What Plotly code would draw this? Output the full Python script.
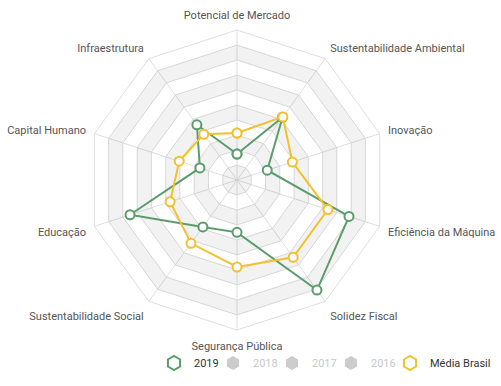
import plotly.graph_objects as go

categories = ["Potencial de Mercado", "Sustentabilidade Ambiental", "Inovação",
              "Eficiência da Máquina", "Solidez Fiscal", "Segurança Pública",
              "Sustentabilidade Social", "Educação", "Capital Humano", "Infraestrutura"]

values_2019 = [1.73, 5.17, 2.12, 7.85, 9.07, 3.49, 3.87, 7.5, 2.6, 4.55]
values_media = [3.13, 5.2, 3.88, 6.37, 6.37, 5.8, 5.22, 4.69, 4.05, 3.77]
hidden_years = ["2018", "2017", "2016"]

ring_levels = list(range(0, 11))

GREEN = "#5c9c6c"
YELLOW = "#f2c12e"
GRID = "#dedede"

fig = go.Figure()

# alternating split-area bands (gray on even bands from center)
n = len(categories)
for k in range(0, 10, 2):
    outer = [ring_levels[k + 1]] * n + [ring_levels[k + 1]]
    th_outer = categories + [categories[0]]
    if k == 0:
        r = outer
        th = th_outer
    else:
        inner_th = [categories[0]] + categories[::-1]
        r = outer + [ring_levels[k]] * (n + 1)
        th = th_outer + inner_th
    fig.add_trace(go.Scatterpolar(r=r, theta=th, mode="lines", fill="toself",
                                  fillcolor="rgba(0,0,0,0.05)", line=dict(width=0),
                                  showlegend=False, hoverinfo="skip"))

def closed(v):
    return v + [v[0]]

th_closed = categories + [categories[0]]

fig.add_trace(go.Scatterpolar(r=closed(values_2019), theta=th_closed, mode="lines+markers",
                              line=dict(color=GREEN, width=2),
                              marker=dict(symbol="circle", size=9, color="white",
                                          line=dict(color=GREEN, width=2)),
                              showlegend=False, name="2019"))
fig.add_trace(go.Scatterpolar(r=closed(values_media), theta=th_closed, mode="lines+markers",
                              line=dict(color=YELLOW, width=2),
                              marker=dict(symbol="circle", size=9, color="white",
                                          line=dict(color=YELLOW, width=2)),
                              showlegend=False, name="Média Brasil"))

# legend entries
fig.add_trace(go.Scatterpolar(r=[None], theta=[None], mode="markers", name="2019",
                              marker=dict(symbol="hexagon-open", size=14, color=GREEN,
                                          line=dict(color=GREEN, width=2))))
for y in hidden_years:
    fig.add_trace(go.Scatterpolar(r=[None], theta=[None], mode="markers",
                                  name=f'<span style="color:#c8c8c8">{y}</span>',
                                  marker=dict(symbol="hexagon", size=14, color="#cccccc",
                                              line=dict(width=0))))
fig.add_trace(go.Scatterpolar(r=[None], theta=[None], mode="markers", name="Média Brasil",
                              legendwidth=70,
                              marker=dict(symbol="hexagon-open", size=14, color=YELLOW,
                                          line=dict(color=YELLOW, width=2))))

W, H = 501, 386
cx, cy, R = 237, 180, 150
fig.update_layout(
    width=W, height=H,
    margin=dict(l=0, r=0, t=0, b=0, autoexpand=False),
    paper_bgcolor="white",
    font=dict(family="Roboto", size=11, color="#555"),
    polar=dict(
        domain=dict(x=[(cx - R) / W, (cx + R) / W], y=[(H - cy - R) / H, (H - cy + R) / H]),
        gridshape="linear",
        bgcolor="white",
        radialaxis=dict(range=[0, 10], dtick=1, showticklabels=False, ticks="",
                        showline=False, gridcolor=GRID, gridwidth=1),
        angularaxis=dict(direction="clockwise", rotation=90, gridcolor=GRID,
                         linecolor=GRID, linewidth=1, ticks="outside", ticklen=6,
                         tickcolor="rgba(0,0,0,0)",
                         tickfont=dict(family="Roboto", size=11, color="#555")),
    ),
    legend=dict(orientation="h", x=154 / W, xanchor="left", y=(H - 363) / H, yanchor="middle",
                font=dict(family="Roboto", size=11, color="#333"), itemwidth=30,
                entrywidth=14, bgcolor="rgba(0,0,0,0)"),
)

fig.write_html("out.html", config={"displayModeBar": False},
               post_script="document.body.style.margin='0';")
